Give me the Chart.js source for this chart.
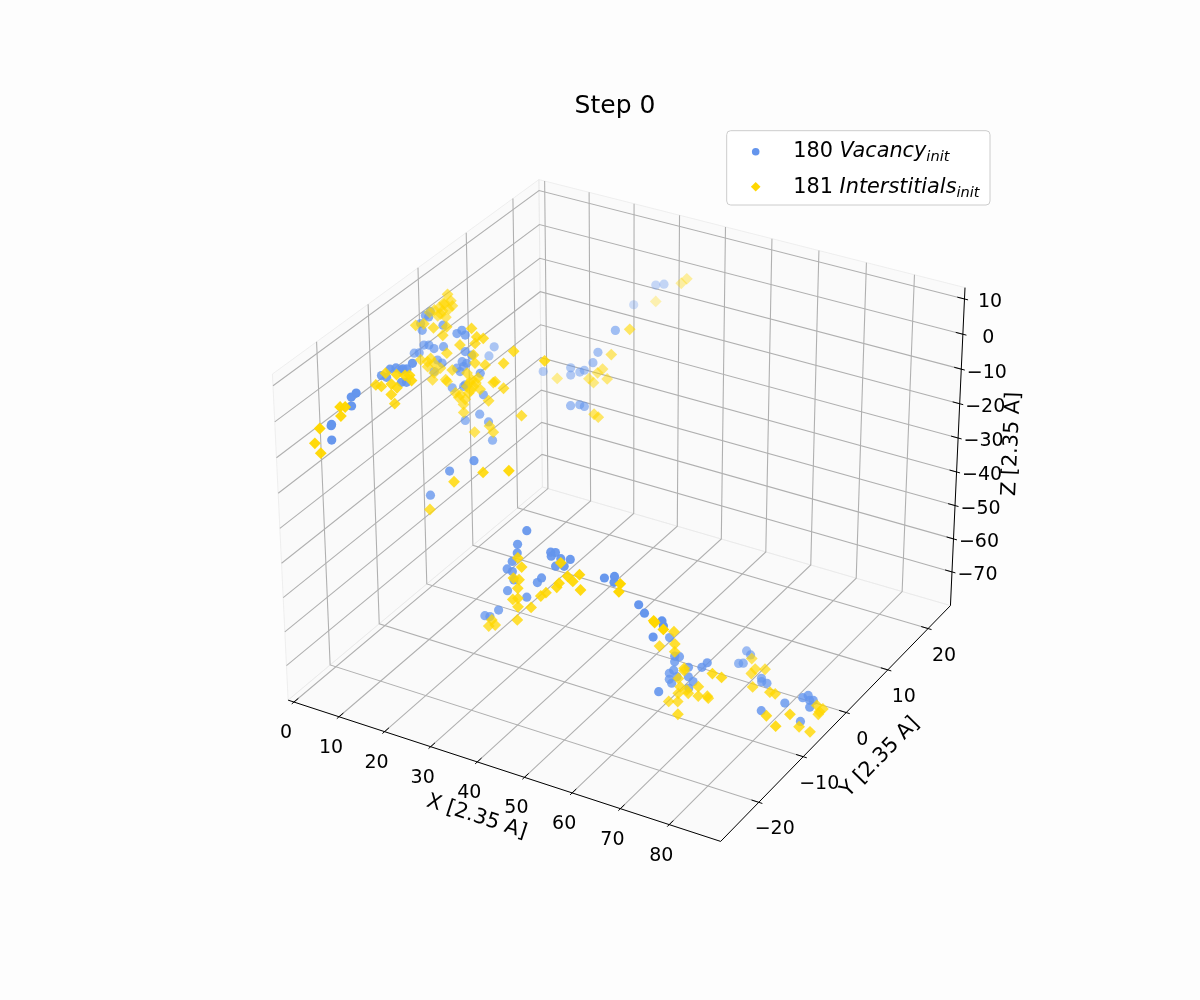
<!DOCTYPE html>
<html>
<head>
<meta charset="utf-8">
<script src="https://cdn.jsdelivr.net/npm/chart.js@4.4.0/dist/chart.umd.min.js"></script>
<style>
  html, body { margin: 0; padding: 0; background: #fdfdfd; }
  canvas { display: block; }
</style>
</head>
<body>
<canvas id="chart" width="1200" height="1000"></canvas>
<script>
// vacancies (x, y, z in 2.35 A units)
const vacX = [7.1,7.0,7.0,8.1,9.2,8.1,6.8,8.7,10.0,11.2,12.4,7.9,11.1,13.6,11.5,12.2,
  2.9,4.0,5.1,6.2,7.3,9.4,4.5,4.8,6.3,6.7,9.4,12.4,13.5,14.2,8.0,9.0,7.2,12.2,13.4,13.7,12.9,14.1,15.5,17.3,13.6,11.1,17.0,18.9,13.8,19.7,5.6,14.4,14.0,17.9,
  26.2,20.9,16.6,8.6,9.8,26.5,28.3,21.6,31.6,27.8,26.7,21.8,21.8,23.8,24.8,15.7,27.3,29.3,30.3,
  39.0,37.0,36.9,35.8,34.7,35.8,36.1,34.7,38.8,41.1,42.0,44.0,45.0,44.1,46.1,48.1,45.0,46.8,55.2,57.3,57.2,62.3,63.5,32.7,29.7,30.8,67.1,67.4,65.3,66.5,
  62.4,63.5,64.5,63.5,62.4,62.4,63.3,64.0,62.9,66.4,66.4,67.4,69.2,70.3,66.5,
  68.8,69.6,70.3,70.1,75.7,76.3,77.4,83.4,80.9,85.4,85.9,86.9,87.5,88.0,86.7];
const vacY = [-25,-25,-25,-22,-22,-22,-15,-15,-15,-15,-15,-15,-15,-15,-15,-15,
  -5,-5,-5,-5,-5,-5,-5,-5,-5,-5,-5,-5,-5,-5,-5,-5,-5,-5,-5,-5,-5,-5,-5,-5,-5,-5,-5,-5,-5,-5,-5,-5,-5,-5,
  -14.9,-14.9,-14.9,5,5,24,24,24,9.7,9.7,9.7,9.7,9.7,9.7,9.7,9.7,4.2,4.2,4.2,
  -16.6,-16.6,-16.6,-16.6,-16.6,-16.6,-16.6,-16.6,-16.6,-16.6,-16.6,-16.6,-16.6,-16.6,-16.6,-16.6,-16.6,-16.6,-16.6,-16.6,-16.6,-16.6,-16.6,-16.6,-16.6,-16.6,-16.6,-16.6,-16.6,-16.6,
  -10,-10,-10,-10,-10,-10,-10,-10,-10,-10,-10,-10,-10,-10,-10,
  0.6,-2.1,-1.8,0.1,-3.5,-4.1,-4.1,-6.6,-9.2,-4.7,-4.0,-4.8,-4.6,-6.0,-6.6];
const vacZ = [-1.2,-1.6,-5.6,3.5,5.0,1.0,1.4,3.9,4.7,4.6,5.3,1.3,1.1,7.3,5.0,1.5,
  -4.4,-3.9,-1.3,-0.9,-1.5,-0.2,4.6,2.8,7.1,8.8,5.9,4.6,5.9,4.8,-4.5,-5.0,-8.1,-5.3,-3.0,-4.3,-6.0,0.1,-0.4,-4.9,-10.0,-11.3,-16.7,-18.2,-19.7,-23.2,7.3,-3.1,-9.4,-10.8,
  -15.4,-20.4,-29.0,-13.8,-10.7,-6.6,-5.7,-14.1,-3.1,-10.8,-14.2,-17.5,-19.6,-18.0,-17.1,-20.8,-20.5,-19.5,-19.6,
  -28.3,-33.0,-35.5,-38.4,-41.0,-41.3,-43.6,-47.3,-47.5,-42.3,-40.6,-32.4,-32.1,-33.5,-33.4,-32.8,-36.0,-35.3,-35.2,-33.9,-35.6,-39.9,-41.8,-53.8,-56.7,-56.5,-42.5,-43.8,-47.9,-63.2,
  -57.5,-62.5,-62.2,-64.1,-68.0,-69.8,-66.7,-68.3,-70.7,-64.5,-67.3,-68.3,-63.3,-61.5,-70.6,
  -72,-72,-72,-72,-72,-72,-72,-72,-72,-72,-72,-72,-72,-72,-76];

// interstitials
const intX = [4.5,3.3,4.5,5.6,6.7,5.7,5.5,6.7,7.7,10.1,8.9,10.1,8.8,9.5,12.9,13.3,11.9,
  5.1,5.8,4.3,3.2,2.1,1.0,3.9,5.3,6.1,2.8,3.5,4.6,4.3,
  3.4,5.2,7.3,9.3,10.2,15.6,16.7,18.1,16.3,13.0,10.1,5.8,4.3,7.2,8.6,15.9,16.2,18.4,22.4,24.6,14.4,15.4,14.3,15.8,14.7,16.8,20.5,22.3,19.0,10.0,12.9,13.9,9.7,6.8,7.2,12.5,13.5,13.5,20.1,11.8,6.5,5.8,11.2,31.2,15.0,16.3,17.2,15.2,
  28.1,33.6,21.8,16.4,15.8,19.1,19.9,26.1,
  32.1,33.3,26.5,34.7,30.7,28.8,27.7,29.8,25.8,26.8,18.8,32.4,33.3,
  37.0,37.8,36.0,37.2,36.9,35.8,36.9,36.9,36.7,39.7,41.8,42.9,45.2,45.7,47.5,48.6,50.0,50.2,46.1,30.5,31.9,31.2,58.5,58.2,65.4,65.6,67.4,
  63.3,60.3,63.5,63.5,65.5,65.5,64.3,64.7,64.3,66.1,66.4,68.5,68.5,70.4,70.6,62.3,64.2,67.1,71.4,73.3,
  70.9,73.2,74.8,73.3,75.7,79.3,80.4,82.5,85.6,86.0,86.8,88.8,87.3,87.7,88.3,87.9];
const intY = [-25,-25,-25,-22,-22,-22,-15,-15,-15,-15,-15,-15,-15,-15,-15,-15,-15,
  0,0,0,0,0,0,0,0,0,0,0,0,0,
  -5,-5,-5,-5,-5,-5,-5,-5,-5,-5,-5,-5,-5,-5,-5,-5,-5,-5,-5,-5,-5,-5,-5,-5,-5,-5,-5,-5,-5,-5,-5,-5,-5,-5,-5,-5,-5,-5,-5,-5,-5,-5,-5,-5,-5,-5,-5,-5,
  -14.9,-14.9,-14.9,-14.9,-5,-5,-5,-5,
  24,24,24,9.7,9.7,9.7,9.7,9.7,9.7,9.7,9.7,4.2,4.2,
  -16.6,-16.6,-16.6,-16.6,-16.6,-16.6,-16.6,-16.6,-16.6,-16.6,-16.6,-16.6,-16.6,-16.6,-16.6,-16.6,-16.6,-16.6,-16.6,-16.6,-16.6,-16.6,-16.6,-16.6,-16.6,-16.6,-16.6,
  -10,-10,-10,-10,-10,-10,-10,-10,-10,-10,-10,-10,-10,-10,-10,-10,-10,-13,-10,-10,
  -0.5,-2.2,-1.7,-3.2,-5.5,-5.5,-5.5,-9.8,-11.1,-8.3,-7.0,-6.7,-3.5,-3.3,-3.2,-3.8];
const intZ = [-3.3,-7.9,-10.2,-0.2,0.2,-2.7,-1.7,-1.7,2.4,2.9,-0.2,-0.8,-3.2,-5.5,3.7,2.4,3.3,
  7.9,6.3,4.8,3.5,2.4,1.3,2.8,3.8,5.0,1.0,1.7,1.2,5.3,
  3.7,4.8,4.4,3.0,5.7,7.2,5.2,5.3,3.2,1.6,-1.8,-5.8,-5.8,-5.7,-6.6,-0.2,-2.4,-2.1,-0.2,4.0,-5.9,-7.4,-9.7,-9.2,-11.5,-6.4,-6.1,-7.3,-12.1,-9.9,-12.6,-13.6,-9.5,-10.6,-8.5,-13.6,-15.2,-17.5,-6.5,-12.5,-4.6,-7.2,-6.2,3.7,-8.3,-8.0,-9.5,-10.5,
  -18.0,-15.4,-23.1,-33.2,-22.3,-19.3,-20.8,-13.7,
  -4.1,-2.4,-11.4,-1.7,-10.4,-15.3,-16.8,-17.8,-19.2,-20.0,-21.7,-21.1,-21.6,
  -36.9,-39.2,-43.1,-43.1,-45.7,-49.4,-48.6,-51.1,-55.0,-50.1,-45.9,-44.5,-42.0,-40.6,-37.9,-38.9,-36.4,-40.7,-34.6,-59.4,-58.5,-57.3,-35.5,-37.9,-43.2,-43.6,-44.8,
  -55.4,-60.9,-58.9,-61.2,-65.2,-65.9,-68.7,-71.0,-73.1,-71.4,-72.2,-69.3,-72.1,-71.3,-71.8,-76.4,-75.6,-74.2,-64.2,-64.5,
  -72,-72,-72,-72,-72,-72,-72,-72,-72,-72,-77,-78,-75,-77,-76,-77];

const xTicks = [0, 10, 20, 30, 40, 50, 60, 70, 80];
const yTicks = [-20, -10, 0, 10, 20];
const zTicks = [-70, -60, -50, -40, -30, -20, -10, 0, 10];
const xLim = [0.535, 88.57];
const yLim = [-27.22, 24.62];
const zLim = [-78.43, 11.33];
const legendCounts = [180, 181];
const legendNames = ["Vacancy", "Interstitials"];
const axisTitles = ["X [2.35 A]", "Y [2.35 A]", "Z [2.35 A]"];

const FONT = '"DejaVu Sans", sans-serif';
const deg = Math.PI / 180;

// view like matplotlib's default 3d axes: elev 30, azim -60, box aspect 4:4:3
const elev = 30 * deg, azim = -60 * deg, dist = 10;
const box = [4 / 3.5, 4 / 3.5, 3 / 3.5];
const lims = [xLim, yLim, zLim];
const lo = lims.map(l => l[0] - (l[1] - l[0]) / 48);
const hi = lims.map(l => l[1] + (l[1] - l[0]) / 48);
const delta = lims.map(l => (l[1] - l[0]) / 12);

function norm3(a) { const l = Math.hypot(a[0], a[1], a[2]); return a.map(v => v / l); }
function cross(a, b) { return [a[1]*b[2]-a[2]*b[1], a[2]*b[0]-a[0]*b[2], a[0]*b[1]-a[1]*b[0]]; }
function dot(a, b) { return a[0]*b[0] + a[1]*b[1] + a[2]*b[2]; }

const mid = box.map(b => b / 2);
const eye = [mid[0] + Math.cos(azim) * Math.cos(elev) * dist,
             mid[1] + Math.sin(azim) * Math.cos(elev) * dist,
             mid[2] + Math.sin(elev) * dist];
const vn = norm3([eye[0] - mid[0], eye[1] - mid[1], eye[2] - mid[2]]);
const vu = norm3(cross([0, 0, 1], vn));
const vv = cross(vn, vu);

function project(x, y, z) {
  const q = [x, y, z].map((val, i) => (val - lims[i][0]) / (lims[i][1] - lims[i][0]) * box[i] - eye[i]);
  const w = -dot(vn, q);
  return { x: dot(vu, q) / w, y: dot(vv, q) / w, d: w };
}

// projected points, faded with depth, far ones drawn first
function series(xs, ys, zs) {
  const pts = xs.map((x, i) => project(x, ys[i], zs[i]));
  const ds = pts.map(p => p.d);
  const dMin = Math.min(...ds), dMax = Math.max(...ds);
  pts.forEach(p => { p.a = 1 - 0.7 * (p.d - dMin) / (dMax - dMin); });
  return pts.sort((a, b) => b.d - a.d);
}

const blue = [100, 149, 237];
const gold = [255, 215, 0];
const rgba = (c, a) => `rgba(${c[0]},${c[1]},${c[2]},${a})`;

function tickText(t) { return t < 0 ? "\u2212" + (-t) : String(t); }

const axes3d = {
  id: "axes3d",
  beforeDatasetsDraw(chart) {
    const c = chart.ctx;
    const sx = chart.scales.x, sy = chart.scales.y;
    const px = (x, y, z) => {
      const p = project(x, y, z);
      return [sx.getPixelForValue(p.x), sy.getPixelForValue(p.y)];
    };
    const path = (pts, close) => {
      c.beginPath();
      pts.forEach((q, i) => {
        const s = px(q[0], q[1], q[2]);
        if (i) c.lineTo(s[0], s[1]); else c.moveTo(s[0], s[1]);
      });
      if (close) c.closePath();
    };
    const [x0, y0, z0] = lo, [x1, y1, z1] = hi;
    c.save();

    // panes
    c.fillStyle = "rgba(242,242,242,0.2)";
    c.strokeStyle = "rgba(232,232,232,0.7)";
    c.lineWidth = 1;
    [[[x0,y0,z0],[x0,y1,z0],[x0,y1,z1],[x0,y0,z1]],
     [[x0,y1,z0],[x1,y1,z0],[x1,y1,z1],[x0,y1,z1]],
     [[x0,y0,z0],[x1,y0,z0],[x1,y1,z0],[x0,y1,z0]]].forEach(p => { path(p, true); c.fill(); c.stroke(); });

    // grid
    c.strokeStyle = "#b0b0b0";
    c.lineWidth = 1.1;
    xTicks.forEach(t => { path([[t,y0,z0],[t,y1,z0],[t,y1,z1]]); c.stroke(); });
    yTicks.forEach(t => { path([[x0,t,z1],[x0,t,z0],[x1,t,z0]]); c.stroke(); });
    zTicks.forEach(t => { path([[x1,y1,t],[x0,y1,t],[x0,y0,t]]); c.stroke(); });

    // axis lines
    c.strokeStyle = "#000";
    c.lineWidth = 1;
    path([[x0,y0,z0],[x1,y0,z0]]); c.stroke();
    path([[x1,y0,z0],[x1,y1,z0]]); c.stroke();
    path([[x1,y1,z0],[x1,y1,z1]]); c.stroke();

    // ticks and tick labels
    const [dx, dy] = delta;
    c.fillStyle = "#000";
    c.font = "19px " + FONT;
    c.textAlign = "center";
    c.textBaseline = "middle";
    xTicks.forEach(t => {
      path([[t, y0 - 0.1 * dy, z0], [t, y0 + 0.2 * dy, z0]]); c.stroke();
      const s = px(t, y0, z0);
      c.fillText(tickText(t), s[0] - 8, s[1] + 31);
    });
    yTicks.forEach(t => {
      path([[x1 + 0.1 * dx, t, z0], [x1 - 0.2 * dx, t, z0]]); c.stroke();
      const s = px(x1, t, z0);
      c.fillText(tickText(t), s[0] + 16, s[1] + 27);
    });
    zTicks.forEach(t => {
      path([[x1 + 0.1 * dx, y1, t], [x1 - 0.2 * dx, y1, t]]); c.stroke();
      const s = px(x1, y1, t);
      c.fillText(tickText(t), s[0] + 25.5, s[1] + 3.5);
    });

    // axis titles, turned along their axis
    c.font = "20.8px " + FONT;
    const ends = [
      [px(x0,y0,z0), px(x1,y0,z0), -27.7, 46.2],
      [px(x1,y0,z0), px(x1,y1,z0), 44.6, 33.8],
      [px(x1,y1,z0), px(x1,y1,z1), 54.2, -2.7]
    ];
    ends.forEach((e, i) => {
      const [a, b, ox, oy] = e;
      const ang = Math.atan2(b[1] - a[1], b[0] - a[0]);
      const rot = ang < -Math.PI / 2 ? ang + Math.PI : (ang > Math.PI / 2 ? ang - Math.PI : ang);
      c.save();
      c.translate((a[0] + b[0]) / 2 + ox, (a[1] + b[1]) / 2 + oy);
      c.rotate(rot);
      c.fillText(axisTitles[i], 0, 0);
      c.restore();
    });
    c.restore();
  },
  afterDatasetsDraw(chart) {
    const c = chart.ctx;
    const area = chart.chartArea;
    c.save();
    // title
    c.fillStyle = "#000";
    c.font = "25px " + FONT;
    c.textAlign = "center";
    c.textBaseline = "alphabetic";
    c.fillText("Step 0", (area.left + area.right) / 2, 113.3);

    // legend
    const lx = 726.7, ly = 130.7, lw = 263.3, lh = 74.3;
    c.beginPath();
    c.roundRect(lx, ly, lw, lh, 4);
    c.fillStyle = "rgba(255,255,255,0.8)";
    c.fill();
    c.strokeStyle = "#cccccc";
    c.lineWidth = 1;
    c.stroke();

    c.fillStyle = rgba(blue, 1);
    c.beginPath();
    c.arc(755.7, 151.7, 3.8, 0, 2 * Math.PI);
    c.fill();
    c.fillStyle = rgba(gold, 1);
    c.beginPath();
    c.moveTo(755.7 - 4.8, 186.7);
    c.lineTo(755.7, 186.7 - 4.8);
    c.lineTo(755.7 + 4.8, 186.7);
    c.lineTo(755.7, 186.7 + 4.8);
    c.closePath();
    c.fill();

    c.fillStyle = "#000";
    c.textAlign = "left";
    [157.3, 192.7].forEach((base, i) => {
      let x = 793.3;
      c.font = "20.8px " + FONT;
      const head = legendCounts[i] + " ";
      c.fillText(head, x, base);
      x += c.measureText(head).width;
      c.font = "italic 20.8px " + FONT;
      c.fillText(legendNames[i], x, base);
      x += c.measureText(legendNames[i]).width;
      c.font = "italic 14.6px " + FONT;
      c.fillText("init", x, base + 4);
    });
    c.restore();
  }
};

const ctx = document.getElementById("chart").getContext("2d");
const chart = new Chart(ctx, {
  type: "scatter",
  data: {
    datasets: [
      {
        label: legendCounts[0] + " " + legendNames[0],
        data: series(vacX, vacY, vacZ),
        pointStyle: "circle",
        pointRadius: 4.6,
        pointBorderWidth: 0,
        pointBackgroundColor: c => rgba(blue, c.raw ? c.raw.a : 1),
        order: 1,
        clip: false
      },
      {
        label: legendCounts[1] + " " + legendNames[1],
        data: series(intX, intY, intZ),
        pointStyle: "rectRot",
        pointRadius: 5.9,
        pointBorderWidth: 0,
        pointBackgroundColor: c => rgba(gold, c.raw ? c.raw.a : 1),
        order: 0,
        clip: false
      }
    ]
  },
  options: {
    responsive: false,
    animation: false,
    devicePixelRatio: 1,
    events: [],
    layout: { padding: { left: 230, right: 200, top: 120, bottom: 110 } },
    scales: {
      x: { type: "linear", min: -0.095, max: 0.09, display: false },
      y: { type: "linear", min: -0.095, max: 0.09, display: false }
    },
    plugins: {
      legend: { display: false },
      title: { display: false },
      tooltip: { enabled: false }
    }
  },
  plugins: [axes3d]
});
</script>
</body>
</html>
